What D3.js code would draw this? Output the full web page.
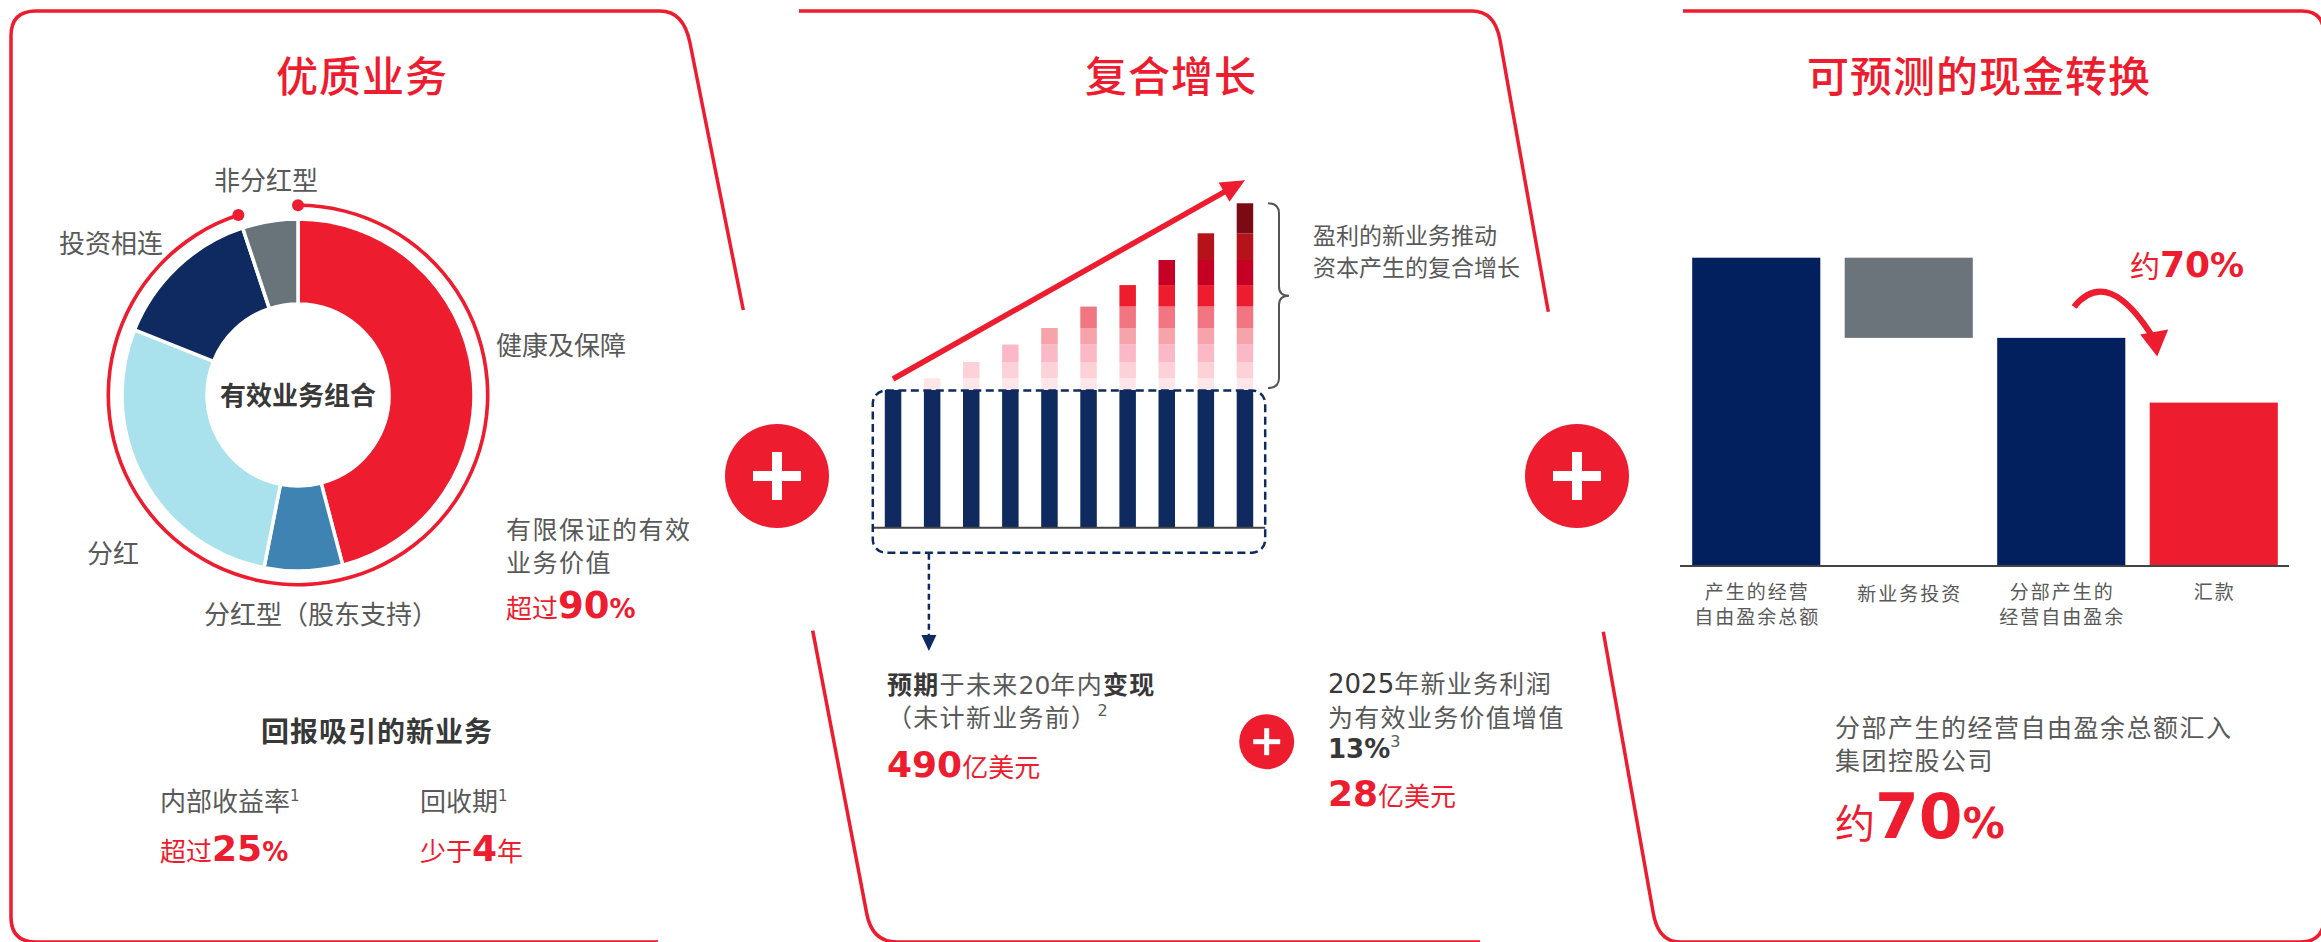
<!DOCTYPE html>
<html><head><meta charset="utf-8">
<script src="https://cdn.jsdelivr.net/npm/d3@7"></script>
<style>
html,body{margin:0;padding:0;background:#fff;}
svg{display:block;}
text{font-family:"DejaVu Sans","Noto Sans CJK SC",sans-serif;}
</style></head><body>
<svg id="chart" width="2321" height="942"></svg>
<script>
// ---------------- DATA ----------------
const panelTitles = ["优质业务", "复合增长", "可预测的现金转换"];

const donutCategories = ["健康及保障", "分红型（股东支持）", "分红", "投资相连", "非分红型"];
const donutValues = [46, 7.2, 28, 13.9, 5.1];
const donutColors = ["#ed1c2e", "#3f83b3", "#a9e2ed", "#0f2a60", "#68737a"];

const growthPeriods = [1, 2, 3, 4, 5, 6, 7, 8, 9, 10];
const inForceValues = [100, 100, 100, 100, 100, 100, 100, 100, 100, 100];
const newBusinessLayers = [8.5, 11.8, 12.7, 12.0, 15.6, 15.6, 18.2, 19.4, 21.8];
const layerColors = ["#fde6ea", "#fdd1d8", "#fbb9c7", "#f6a3aa", "#f27682", "#ed1c2e", "#c50024", "#b5121b", "#7b0a14"];

const wfCategories = [["产生的经营", "自由盈余总额"], ["新业务投资"], ["分部产生的", "经营自由盈余"], ["汇款"]];
const wfValues = [100, -26, 74, 53];
const wfKinds = ["total", "delta", "total", "total"];
const wfColors = ["#03205e", "#6b747a", "#03205e", "#ed1c2e"];

// ---------------- SETUP ----------------
const RED = "#ed1c2e", DARK = "#383838", GRAY = "#595959", NAVY = "#0e2a5e";
const CJK = '"Noto Sans CJK SC", sans-serif';
const svg = d3.select("#chart");

function addParts(t, parts) {
  parts.forEach(p => {
    const s = t.append("tspan").text(p.t)
      .attr("font-size", p.size || 26)
      .attr("font-weight", p.weight || 400)
      .attr("fill", p.fill || GRAY);
    if (p.x !== undefined) s.attr("x", p.x);
    if (p.y !== undefined) s.attr("y", p.y);
    if (p.dy) s.attr("dy", p.dy);
    if (p.ls) s.attr("letter-spacing", p.ls);
    if (p.font) s.style("font-family", p.font);
  });
}
function txt(x, y, parts, anchor) {
  const t = svg.append("text").attr("x", x).attr("y", y).attr("text-anchor", anchor || "start");
  addParts(t, parts);
  return t;
}
// multi-line block as one text element: lines = [[y, parts], ...]
function block(x, lines, anchor) {
  const t = svg.append("text").attr("x", x).attr("y", lines[0][0]).attr("text-anchor", anchor || "start");
  lines.forEach(([y, parts]) => {
    const ps = parts.map((p, k) => k === 0 ? Object.assign({}, p, {x: x, y: y}) : p);
    addParts(t, ps);
  });
  return t;
}

// ---------------- PANEL BORDERS ----------------
const borders = [
  "M658,942 L36,942 Q11,942 11,917 L11,36 Q11,11 36,11 L660,11 Q683.6,11 690,43 L743.3,310",
  "M799,11 L1472,11 Q1494.8,11 1500,40 L1548.3,311.7",
  "M812.7,630.7 L866.7,913.3 Q872,942 897,942 L1480,942",
  "M1603.3,631.7 L1653.3,913.3 Q1658.4,942 1680,942 L2300,942 Q2324,942 2324,918 L2324,35 Q2324,11 2301.7,11 L1683,11"
];
svg.selectAll("path.border").data(borders).enter().append("path")
  .attr("class", "border").attr("d", d => d)
  .attr("fill", "none").attr("stroke", RED).attr("stroke-width", 3.5);

// titles
[362, 1171, 1979].forEach((cx, i) => {
  txt(cx, 92, [{t: panelTitles[i], size: 42, fill: RED, weight: 500, ls: 1, font: CJK}], "middle");
});

// plus circles
function plus(cx, cy, r, arm, th) {
  svg.append("circle").attr("cx", cx).attr("cy", cy).attr("r", r).attr("fill", RED);
  svg.append("rect").attr("x", cx - arm).attr("y", cy - th / 2).attr("width", arm * 2).attr("height", th).attr("fill", "#fff");
  svg.append("rect").attr("x", cx - th / 2).attr("y", cy - arm).attr("width", th).attr("height", arm * 2).attr("fill", "#fff");
}
plus(777, 476, 52, 24, 10);
plus(1577, 476, 52, 24, 10);
plus(1266.7, 741.7, 27.5, 13.5, 5);

// ---------------- PANEL 1: DONUT ----------------
const dc = {x: 298, y: 395};
const gDonut = svg.append("g").attr("transform", `translate(${dc.x},${dc.y})`);
const pie = d3.pie().sort(null).startAngle(0).endAngle(2 * Math.PI);
const arcs = pie(donutValues);
const arc = d3.arc().innerRadius(91).outerRadius(176);
gDonut.selectAll("path.slice").data(arcs).enter().append("path")
  .attr("class", "slice").attr("d", arc)
  .attr("fill", (d, i) => donutColors[i])
  .attr("stroke", "#fff").attr("stroke-width", 3.5);

// outer ring covering all except 非分红型
const ringEnd = arcs[4].startAngle;
const ringR = 189.7;
gDonut.append("path")
  .attr("d", d3.arc().innerRadius(ringR - 1.8).outerRadius(ringR + 1.8)({startAngle: 0, endAngle: ringEnd}))
  .attr("fill", RED);
[0, ringEnd].forEach(a => {
  gDonut.append("circle")
    .attr("cx", ringR * Math.sin(a)).attr("cy", -ringR * Math.cos(a))
    .attr("r", 6).attr("fill", RED);
});

txt(dc.x, dc.y + 10, [{t: "有效业务组合", size: 26, weight: 700, fill: DARK, font: CJK}], "middle");

// slice labels
const donutLabelPos = [[496, 355], [204, 624], [87, 563], [59, 253], [214, 190]];
donutCategories.forEach((c, i) => {
  txt(donutLabelPos[i][0], donutLabelPos[i][1], [{t: c, size: 26, font: CJK}]);
});

block(506, [
  [539, [{t: "有限保证的有效", size: 25, ls: 1.5, font: CJK}]],
  [572, [{t: "业务价值", size: 25, ls: 1.5, font: CJK}]],
  [618, [{t: "超过", size: 26, fill: RED, font: CJK}, {t: "90", size: 37, weight: 700, fill: RED}, {t: "%", size: 26, weight: 700, fill: RED}]]
]);

txt(377, 742, [{t: "回报吸引的新业务", size: 28, weight: 700, fill: DARK, ls: 1, font: CJK}], "middle");
block(160, [
  [811, [{t: "内部收益率", size: 26, font: CJK}, {t: "1", size: 15, dy: -10}]],
  [861, [{t: "超过", size: 26, fill: RED, font: CJK}, {t: "25", size: 36, weight: 700, fill: RED}, {t: "%", size: 26, weight: 700, fill: RED}]]
]);
block(420, [
  [811, [{t: "回收期", size: 26, font: CJK}, {t: "1", size: 15, dy: -10}]],
  [861, [{t: "少于", size: 26, fill: RED, font: CJK}, {t: "4", size: 36, weight: 700, fill: RED}, {t: "年", size: 26, fill: RED, font: CJK}]]
]);

// ---------------- PANEL 2: GROWTH BARS ----------------
const gx = d3.scaleBand().domain(growthPeriods).range([876, 1262]).paddingInner(0.578).paddingOuter(0.225);
const gy = d3.scaleLinear().domain([0, 240]).range([527.7, 527.7 - 240 * 1.377]);
const bw = gx.bandwidth();

// navy in-force bars
svg.selectAll("rect.inforce").data(growthPeriods).enter().append("rect")
  .attr("class", "inforce")
  .attr("x", d => gx(d)).attr("width", bw)
  .attr("y", (d, i) => gy(inForceValues[i])).attr("height", (d, i) => gy(0) - gy(inForceValues[i]))
  .attr("fill", NAVY);

// stacked new-business cohorts
const segs = [];
growthPeriods.forEach((p, i) => {
  let base = inForceValues[i];
  for (let j = 0; j < i; j++) {
    segs.push({p, j, y0: base, y1: base + newBusinessLayers[j]});
    base += newBusinessLayers[j];
  }
});
svg.selectAll("rect.cohort").data(segs).enter().append("rect")
  .attr("class", "cohort")
  .attr("x", d => gx(d.p)).attr("width", bw)
  .attr("y", d => gy(d.y1)).attr("height", d => gy(d.y0) - gy(d.y1))
  .attr("fill", d => layerColors[d.j]);

// baseline
svg.append("line").attr("x1", gx(1) - 12).attr("x2", gx(10) + bw + 12)
  .attr("y1", gy(0)).attr("y2", gy(0)).attr("stroke", "#444").attr("stroke-width", 2);

// dashed box
const boxX0 = gx(1) - 12, boxX1 = gx(10) + bw + 12;
svg.append("rect").attr("x", boxX0).attr("y", gy(100) + 0.5)
  .attr("width", boxX1 - boxX0).attr("height", gy(0) + 25 - gy(100) - 0.5)
  .attr("rx", 13).attr("fill", "none").attr("stroke", NAVY)
  .attr("stroke-width", 2.5).attr("stroke-dasharray", "8,4.5");

// dashed arrow down
const dax = gx(2) + 5;
svg.append("line").attr("x1", dax).attr("x2", dax).attr("y1", gy(0) + 26).attr("y2", 637)
  .attr("stroke", NAVY).attr("stroke-width", 2.5).attr("stroke-dasharray", "6,4");
svg.append("path").attr("d", `M${dax - 7.5},635 L${dax + 7.5},635 L${dax},651 Z`).attr("fill", NAVY);

// growth arrow
const totalLast = inForceValues[9] + d3.sum(newBusinessLayers);
const a0 = [gx(1) + bw / 2, gy(100) - 11];
const a1 = [gx(10) + bw / 2, gy(totalLast) - 23];
const adx = a1[0] - a0[0], ady = a1[1] - a0[1], alen = Math.hypot(adx, ady);
const ux = adx / alen, uy = ady / alen;
const headL = 24, headW = 11;
const hb = [a1[0] - ux * headL, a1[1] - uy * headL];
svg.append("line").attr("x1", a0[0]).attr("y1", a0[1]).attr("x2", hb[0] + ux * 2).attr("y2", hb[1] + uy * 2)
  .attr("stroke", RED).attr("stroke-width", 5.5);
svg.append("path").attr("d",
  `M${a1[0]},${a1[1]} L${hb[0] - uy * headW},${hb[1] + ux * headW} L${hb[0] + uy * headW},${hb[1] - ux * headW} Z`)
  .attr("fill", RED);

// brace
const bTop = gy(totalLast), bBot = gy(100) - 2, bMid = (bTop + bBot) / 2;
const bx0 = 1268, bx1 = 1279, bx2 = 1289;
svg.append("path").attr("d",
  `M${bx0},${bTop} Q${bx1},${bTop} ${bx1},${bTop + 10} L${bx1},${bMid - 9} Q${bx1},${bMid} ${bx2},${bMid} Q${bx1},${bMid} ${bx1},${bMid + 9} L${bx1},${bBot - 10} Q${bx1},${bBot} ${bx0},${bBot}`)
  .attr("fill", "none").attr("stroke", "#555").attr("stroke-width", 2);

block(1313, [
  [244, [{t: "盈利的新业务推动", size: 23, font: CJK}]],
  [276, [{t: "资本产生的复合增长", size: 23, font: CJK}]]
]);

block(887, [
  [694, [{t: "预期", size: 25, weight: 700, fill: DARK, ls: 1.3, font: CJK}, {t: "于未来", size: 25, ls: 1.3, font: CJK}, {t: "20", size: 25, fill: GRAY}, {t: "年内", size: 25, ls: 1.3, font: CJK}, {t: "变现", size: 25, weight: 700, fill: DARK, ls: 1.3, font: CJK}]],
  [727, [{t: "（未计新业务前）", size: 25, ls: 1.3, font: CJK}, {t: "2", size: 16, fill: GRAY, dy: -11}]],
  [777, [{t: "490", size: 36, weight: 700, fill: RED}, {t: "亿美元", size: 26, fill: RED, font: CJK}]]
]);

block(1328, [
  [693, [{t: "2025", size: 26, fill: DARK}, {t: "年新业务利润", size: 25, ls: 1.3, font: CJK}]],
  [727, [{t: "为有效业务价值增值", size: 25, ls: 1.3, font: CJK}]],
  [758, [{t: "13%", size: 26, weight: 700, fill: DARK}, {t: "3", size: 16, fill: GRAY, dy: -11}]],
  [806, [{t: "28", size: 36, weight: 700, fill: RED}, {t: "亿美元", size: 26, fill: RED, font: CJK}]]
]);

// ---------------- PANEL 3: WATERFALL ----------------
const wx = d3.scaleBand().domain(d3.range(wfValues.length)).range([1680, 2290]).paddingInner(0.16).paddingOuter(0.08);
const wy = d3.scaleLinear().domain([0, 100]).range([566, 257.7]);
let running = 0;
const wfBars = wfValues.map((v, i) => {
  let lo, hi;
  if (wfKinds[i] === "total") { lo = 0; hi = v; running = v; }
  else { lo = Math.min(running, running + v); hi = Math.max(running, running + v); running += v; }
  return {i, lo, hi};
});
svg.selectAll("rect.wf").data(wfBars).enter().append("rect")
  .attr("class", "wf")
  .attr("x", d => wx(d.i)).attr("width", wx.bandwidth())
  .attr("y", d => wy(d.hi)).attr("height", d => wy(d.lo) - wy(d.hi))
  .attr("fill", d => wfColors[d.i]);
svg.append("line").attr("x1", 1680).attr("x2", 2289).attr("y1", wy(0)).attr("y2", wy(0))
  .attr("stroke", "#444").attr("stroke-width", 2);

wfCategories.forEach((lines, i) => {
  const cx = wx(i) + wx.bandwidth() / 2 + 1;
  block(cx, lines.map((l, k) => [599 + k * 25 + (lines.length === 1 && i === 1 ? 2 : 0), [{t: l, size: 19, ls: 2, font: CJK}]]), "middle");
});

// curved arrow from bar 3 to bar 4
const cs = [wx(2) + wx.bandwidth() * 0.6, wy(wfValues[2]) - 31];
const ce = [wx(3) + 4, wy(wfValues[3]) - 70];
const tip = [wx(3) + 7.5, wy(wfValues[3]) - 46];
svg.append("path").attr("d", `M${cs[0]},${cs[1]} Q${cs[0] + 34},${cs[1] - 42} ${ce[0]},${ce[1] + 6}`)
  .attr("fill", "none").attr("stroke", RED).attr("stroke-width", 6);
svg.append("path").attr("d", `M${tip[0]},${tip[1]} L${tip[0] - 17},${tip[1] - 22} L${tip[0] + 11},${tip[1] - 27} Z`).attr("fill", RED);

txt(2130, 277, [{t: "约", size: 30, fill: RED, font: CJK}, {t: "70", size: 36, weight: 700, fill: RED}, {t: "%", size: 34, weight: 700, fill: RED}]);

block(1835, [
  [737, [{t: "分部产生的经营自由盈余总额汇入", size: 25, ls: 1.5, font: CJK}]],
  [770, [{t: "集团控股公司", size: 25, ls: 1.5, font: CJK}]],
  [838, [{t: "约", size: 40, fill: RED, font: CJK}, {t: "70", size: 63, weight: 700, fill: RED}, {t: "%", size: 42, weight: 700, fill: RED}]]
]);
</script>
</body></html>
